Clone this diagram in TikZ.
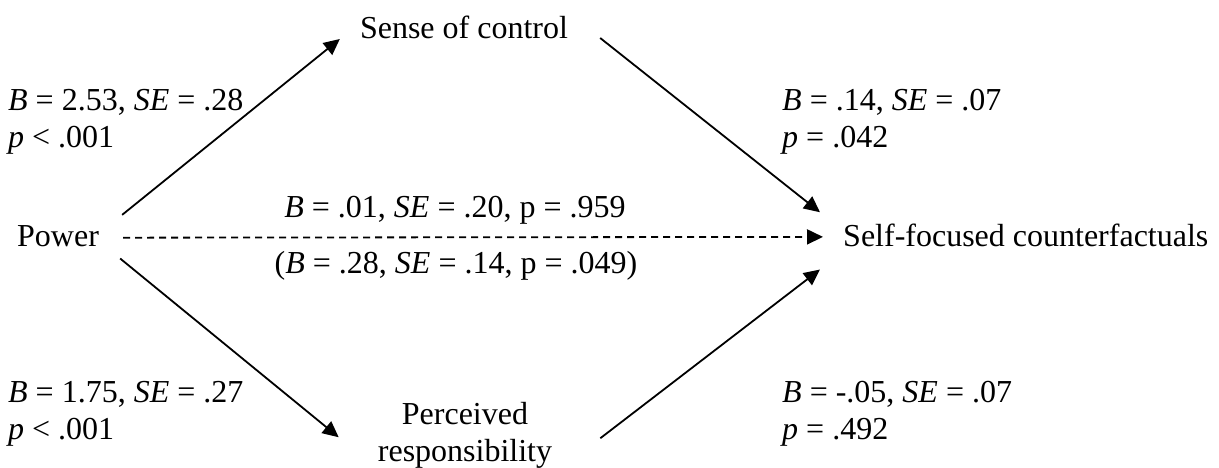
\documentclass[tikz,border=0pt]{standalone}
\usepackage{fontspec}
\setmainfont{Liberation Serif}
\usetikzlibrary{arrows.meta}

\begin{document}
\begin{tikzpicture}[x=1pt, y=-1pt,
  lbl/.style={inner sep=0pt, font=\fontsize{32}{37}\selectfont},
  stat/.style={lbl, align=left, anchor=north west},
  arr/.style={line width=1.8pt, -{Triangle[length=16pt,width=15pt]}}]

  % Fix the page to the size of the figure
  \useasboundingbox (0,0) rectangle (1219,468);

  % The four variables
  \node[lbl, anchor=base west] (power) at (17,246) {Power};
  \node[lbl, anchor=base] (sense) at (464,39) {Sense of control};
  \node[lbl, anchor=north, align=center] (perc) at (465,402) {Perceived\\responsibility};
  \node[lbl, anchor=base west] (self) at (843,246) {Self-focused counterfactuals};

  % Paths a (power to mediators)
  \draw[arr] ([shift={(23,-10)}]power.north east) -- ([shift={(-20,0)}]sense.base west);
  \draw[arr] ([shift={(21,12)}]power.south east) -- ([shift={(-39,2)}]perc.west);

  % Paths b (mediators to outcome)
  \draw[arr] ([shift={(32,-1)}]sense.base east) -- ([shift={(-23,-11)}]self.north west);
  \draw[arr] ([shift={(48,3)}]perc.east) -- ([shift={(-23,23)}]self.south west);

  % Direct path, dashed
  \draw[arr, dash pattern=on 7pt off 5pt] ([shift={(24,2)}]power.east) -- ([shift={(-20,2)}]self.west);

  % Coefficients
  \node[stat] (sa) at (8,89.4) {\textit{B} = 2.53, \textit{SE} = .28\\\textit{p} < .001};
  \node[stat] (sb) at (782,89.4) {\textit{B} = .14, \textit{SE} = .07\\\textit{p} = .042};
  \node[stat] (pa) at (8,381.4) {\textit{B} = 1.75, \textit{SE} = .27\\\textit{p} < .001};
  \node[stat] (pb) at (782,381.4) {\textit{B} = -.05, \textit{SE} = .07\\\textit{p} = .492};

  % Direct and total effect
  \node[lbl, anchor=base] (direct) at (455,218) {\textit{B} = .01, \textit{SE} = .20, p = .959};
  \node[lbl, anchor=base] (total) at (456,273) {(\textit{B} = .28, \textit{SE} = .14, p = .049)};

\end{tikzpicture}
\end{document}
